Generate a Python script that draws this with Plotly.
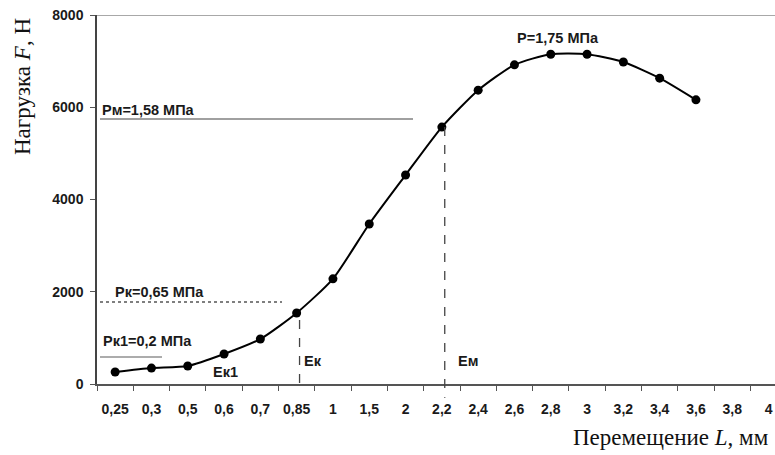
import plotly.graph_objects as go

# Displacement categories (mm) and measured load (N)
displacement_labels = ["0,25", "0,3", "0,5", "0,6", "0,7", "0,85", "1", "1,5", "2", "2,2",
                       "2,4", "2,6", "2,8", "3", "3,2", "3,4", "3,6", "3,8", "4"]
load_values = [260, 345, 390, 650, 975, 1540, 2280, 3470, 4530, 5570,
               6370, 6920, 7150, 7150, 6980, 6630, 6160]

# Pressure reference levels (load, N)
level_names = ["Pм=1,58 МПа", "Pк=0,65 МПа", "Pк1=0,2 МПа"]
level_loads = [5745, 1778, 585]
peak_label = "P=1,75 МПа"

W, H = 775, 455
L_MARGIN, T_MARGIN, B_MARGIN = 97, 15, 71
PLOT_W = W - L_MARGIN
STEP = 36.3  # px per category
x_max = PLOT_W / STEP - 0.5
plot_h = H - T_MARGIN - B_MARGIN


def px_to_x(px):
    return (px - L_MARGIN) / STEP - 0.5


def px_to_paper_x(px):
    return (px - L_MARGIN) / PLOT_W


def px_to_paper_y(py):
    return (H - B_MARGIN - py) / plot_h


idx = list(range(len(load_values)))
fig = go.Figure()

fig.add_trace(go.Scatter(
    x=idx, y=load_values, mode="lines+markers",
    line=dict(color="black", width=2, shape="spline", smoothing=0.6),
    marker=dict(color="black", size=9),
    hoverinfo="skip", showlegend=False,
))

TICK_FONT = dict(family="Liberation Sans, Arial", size=14, color="#1a1a1a")
LBL_FONT = dict(family="Liberation Sans, Arial", size=14.5, color="#1a1a1a")
shapes = []
annotations = []

# Top border line at 8000
shapes.append(dict(type="line", xref="paper", yref="y", x0=0, x1=1, y0=8000, y1=8000,
                   line=dict(color="#a8a8a8", width=2)))

# Horizontal pressure level lines
level_spans = [(100, 413, "solid", "#808080"), (100, 282, "dot", "#555"), (100, 162, "solid", "#909090")]
label_pos = [(100, 110), (113, 292), (101, 341)]
for name, val, (xa, xb, dash, col), (lx, ly) in zip(level_names, level_loads, level_spans, label_pos):
    shapes.append(dict(type="line", xref="x", yref="y", x0=px_to_x(xa), x1=px_to_x(xb),
                       y0=val, y1=val, line=dict(color=col, width=1.5, dash=dash)))
    annotations.append(dict(text="<b>" + name + "</b>", xref="paper", yref="paper",
                            x=px_to_paper_x(lx), y=px_to_paper_y(ly), xanchor="left",
                            yanchor="middle", showarrow=False, font=LBL_FONT))

# Vertical dashed lines for Eк and Eм
ek_i = displacement_labels.index("0,85")
em_i = displacement_labels.index("2,2")
shapes.append(dict(type="line", xref="x", yref="paper", x0=ek_i + 0.08, x1=ek_i + 0.08,
                   y0=1390 / 8000, y1=0, line=dict(color="#444", width=1.3, dash="dash")))
shapes.append(dict(type="line", xref="x", yref="paper", x0=em_i + 0.08, x1=em_i + 0.08,
                   y0=load_values[em_i] / 8000, y1=-300 / 8000,
                   line=dict(color="#444", width=1.3, dash="dash")))

for txt, px, py, anchor in [("Eк1", 211, 372, "left"), ("Eк", 302, 361, "left"),
                            ("Eм", 456, 361, "left"), (peak_label, 558, 38, "center")]:
    annotations.append(dict(text="<b>" + txt + "</b>", xref="paper", yref="paper",
                            x=px_to_paper_x(px), y=px_to_paper_y(py), xanchor=anchor,
                            yanchor="middle", showarrow=False, font=LBL_FONT))

# Axis titles
TITLE_FONT = dict(family="Liberation Serif, Times New Roman", size=23, color="#111")
annotations.append(dict(text="Нагрузка <i>F</i>, Н", xref="paper", yref="paper",
                        x=px_to_paper_x(23), y=px_to_paper_y(87), textangle=-90,
                        xanchor="center", yanchor="middle", showarrow=False, font=TITLE_FONT))
annotations.append(dict(text="Перемещение <i>L</i>, мм", xref="paper", yref="paper",
                        x=px_to_paper_x(771), y=px_to_paper_y(438), xanchor="right",
                        yanchor="middle", showarrow=False, font=TITLE_FONT))

fig.update_layout(
    width=W, height=H,
    margin=dict(l=L_MARGIN, r=0, t=T_MARGIN, b=B_MARGIN),
    paper_bgcolor="white", plot_bgcolor="white",
    shapes=shapes, annotations=annotations,
    xaxis=dict(
        range=[-0.5, x_max], tickmode="array",
        tickvals=list(range(len(displacement_labels))),
        ticktext=["<b>" + t + "</b>" for t in displacement_labels],
        ticks="", showgrid=False, zeroline=False,
        showline=True, linecolor="#555", linewidth=1.5,
        tickfont=TICK_FONT, ticklabelstandoff=11,
        minor=dict(ticks="outside", tick0=0.5, dtick=1, ticklen=5, tickcolor="#555", tickwidth=1.3),
    ),
    yaxis=dict(
        range=[0, 8000], tickvals=[0, 2000, 4000, 6000, 8000],
        ticktext=["<b>%d</b>" % v for v in [0, 2000, 4000, 6000, 8000]],
        ticks="outside", ticklen=5, tickcolor="#555", tickwidth=1.3,
        showgrid=False, zeroline=False,
        showline=True, linecolor="#444", linewidth=1.5,
        tickfont=TICK_FONT, ticklabelstandoff=4,
    ),
)

fig.write_html("out.html")
